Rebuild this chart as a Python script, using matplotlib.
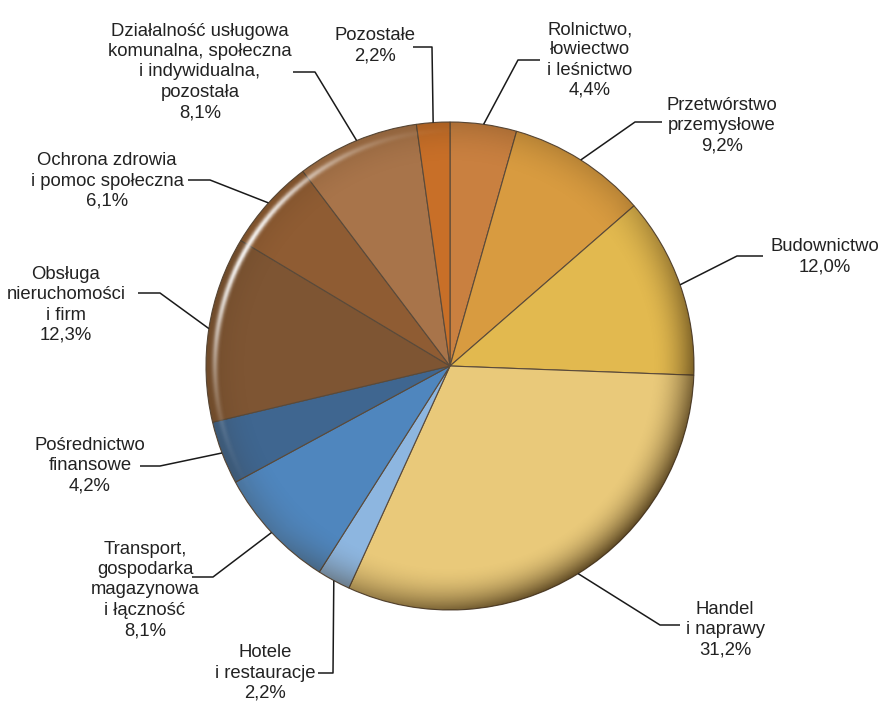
import numpy as np
import matplotlib.pyplot as plt
from matplotlib.patches import Circle

# dane: udział sekcji (%), zgodnie z ruchem wskazówek zegara od góry
labels = ['Rolnictwo,\nłowiectwo\ni leśnictwo', 'Przetwórstwo\nprzemysłowe', 'Budownictwo',
          'Handel\ni naprawy', 'Hotele\ni restauracje', 'Transport,\ngospodarka\nmagazynowa\ni łączność',
          'Pośrednictwo\nfinansowe', 'Obsługa\nnieruchomości\ni firm', 'Ochrona zdrowia\ni pomoc społeczna',
          'Działalność usługowa\nkomunalna, społeczna\ni indywidualna,\npozostała', 'Pozostałe']
values = [4.4, 9.2, 12.0, 31.2, 2.2, 8.1, 4.2, 12.3, 6.1, 8.1, 2.2]
colors = ['#C98040', '#D89B40', '#E2B94F', '#E9C97A', '#8DB6E0', '#4F86BE',
          '#3F6690', '#7E5533', '#8F5C33', '#A8744A', '#C86F28']

# układ etykiet (piksele): środek tekstu, łokieć i koniec poziomej linii
text_pos = [(590, 60), (722, 126), (825, 257), (725, 630), (265, 673), (145, 590),
            (90, 466), (66, 305), (107, 181), (200, 72), (375, 46)]
elbow = [(518, 60), (635, 122), (737, 256), (660, 625), (333, 673), (213, 577),
         (160, 466), (160, 293), (210, 180), (315, 72), (432, 47)]
line_end = [(540, 60), (662, 122), (763, 256), (680, 625), (318, 673), (192, 577),
            (140, 466), (138, 293), (188, 180), (293, 72), (413, 47)]

W, H = 881, 705
CX, CY, R = 450, 366, 244


def px(p):
    return ((p[0] - CX) / R, (CY - p[1]) / R)


plt.rcParams['font.family'] = ['Liberation Sans Narrow', 'Liberation Sans', 'DejaVu Sans']

fig = plt.figure(figsize=(W / 100, H / 100), dpi=100)
ax = fig.add_axes([0, 0, 1, 1])
ax.axis('off')

wedges, _ = ax.pie(values, colors=colors, startangle=90, counterclock=False, radius=1,
                   wedgeprops=dict(edgecolor='#5a4a3a', linewidth=0.8))
ax.set_xlim(-CX / R, (W - CX) / R)
ax.set_ylim((CY - H) / R, CY / R)
ax.set_aspect('equal')

# cieniowanie krawędzi (efekt 3D)
n = 600
g = np.linspace(-1, 1, n)
xx, yy = np.meshgrid(g, g)
rr = np.hypot(xx, yy)
ang = np.arctan2(yy, xx)
edge = np.clip((rr - 0.82) / 0.18, 0, 1) ** 2
dirw = 0.25 + 0.75 * np.clip(np.cos(ang + np.pi / 4), 0, 1)
alpha = np.clip(edge * dirw * 0.8, 0, 1)
img = np.zeros((n, n, 4))
img[..., 0] = 0.22
img[..., 1] = 0.15
img[..., 2] = 0.05
img[..., 3] = alpha
im = ax.imshow(img, extent=(-1, 1, -1, 1), origin='lower', zorder=3, interpolation='bilinear')
im.set_clip_path(Circle((0, 0), 1, transform=ax.transData))

# połysk w lewym górnym rogu
hl = np.exp(-((rr - 0.965) / 0.012) ** 2) * np.clip(np.cos(ang - np.deg2rad(150)), 0, 1) ** 6
img2 = np.ones((n, n, 4))
img2[..., 3] = np.clip(hl * 0.9, 0, 1)
im2 = ax.imshow(img2, extent=(-1, 1, -1, 1), origin='lower', zorder=4, interpolation='bilinear')
im2.set_clip_path(Circle((0, 0), 1, transform=ax.transData))

# etykiety z liniami odniesienia
for w, lab, v, tp, el, le in zip(wedges, labels, values, text_pos, elbow, line_end):
    mid = np.deg2rad((w.theta1 + w.theta2) / 2)
    anchor = (np.cos(mid), np.sin(mid))
    e = px(el)
    l = px(le)
    ax.plot([anchor[0], e[0], l[0]], [anchor[1], e[1], l[1]], color='#1a1a1a', lw=1.1,
            zorder=5, solid_capstyle='butt')
    txt = f"{lab}\n{v:.1f}%".replace('.', ',')
    t = px(tp)
    ax.text(t[0], t[1], txt, ha='center', va='center', fontsize=13.3, linespacing=1.25,
            color='#222222', zorder=6)

plt.savefig('out.png', dpi=100)
